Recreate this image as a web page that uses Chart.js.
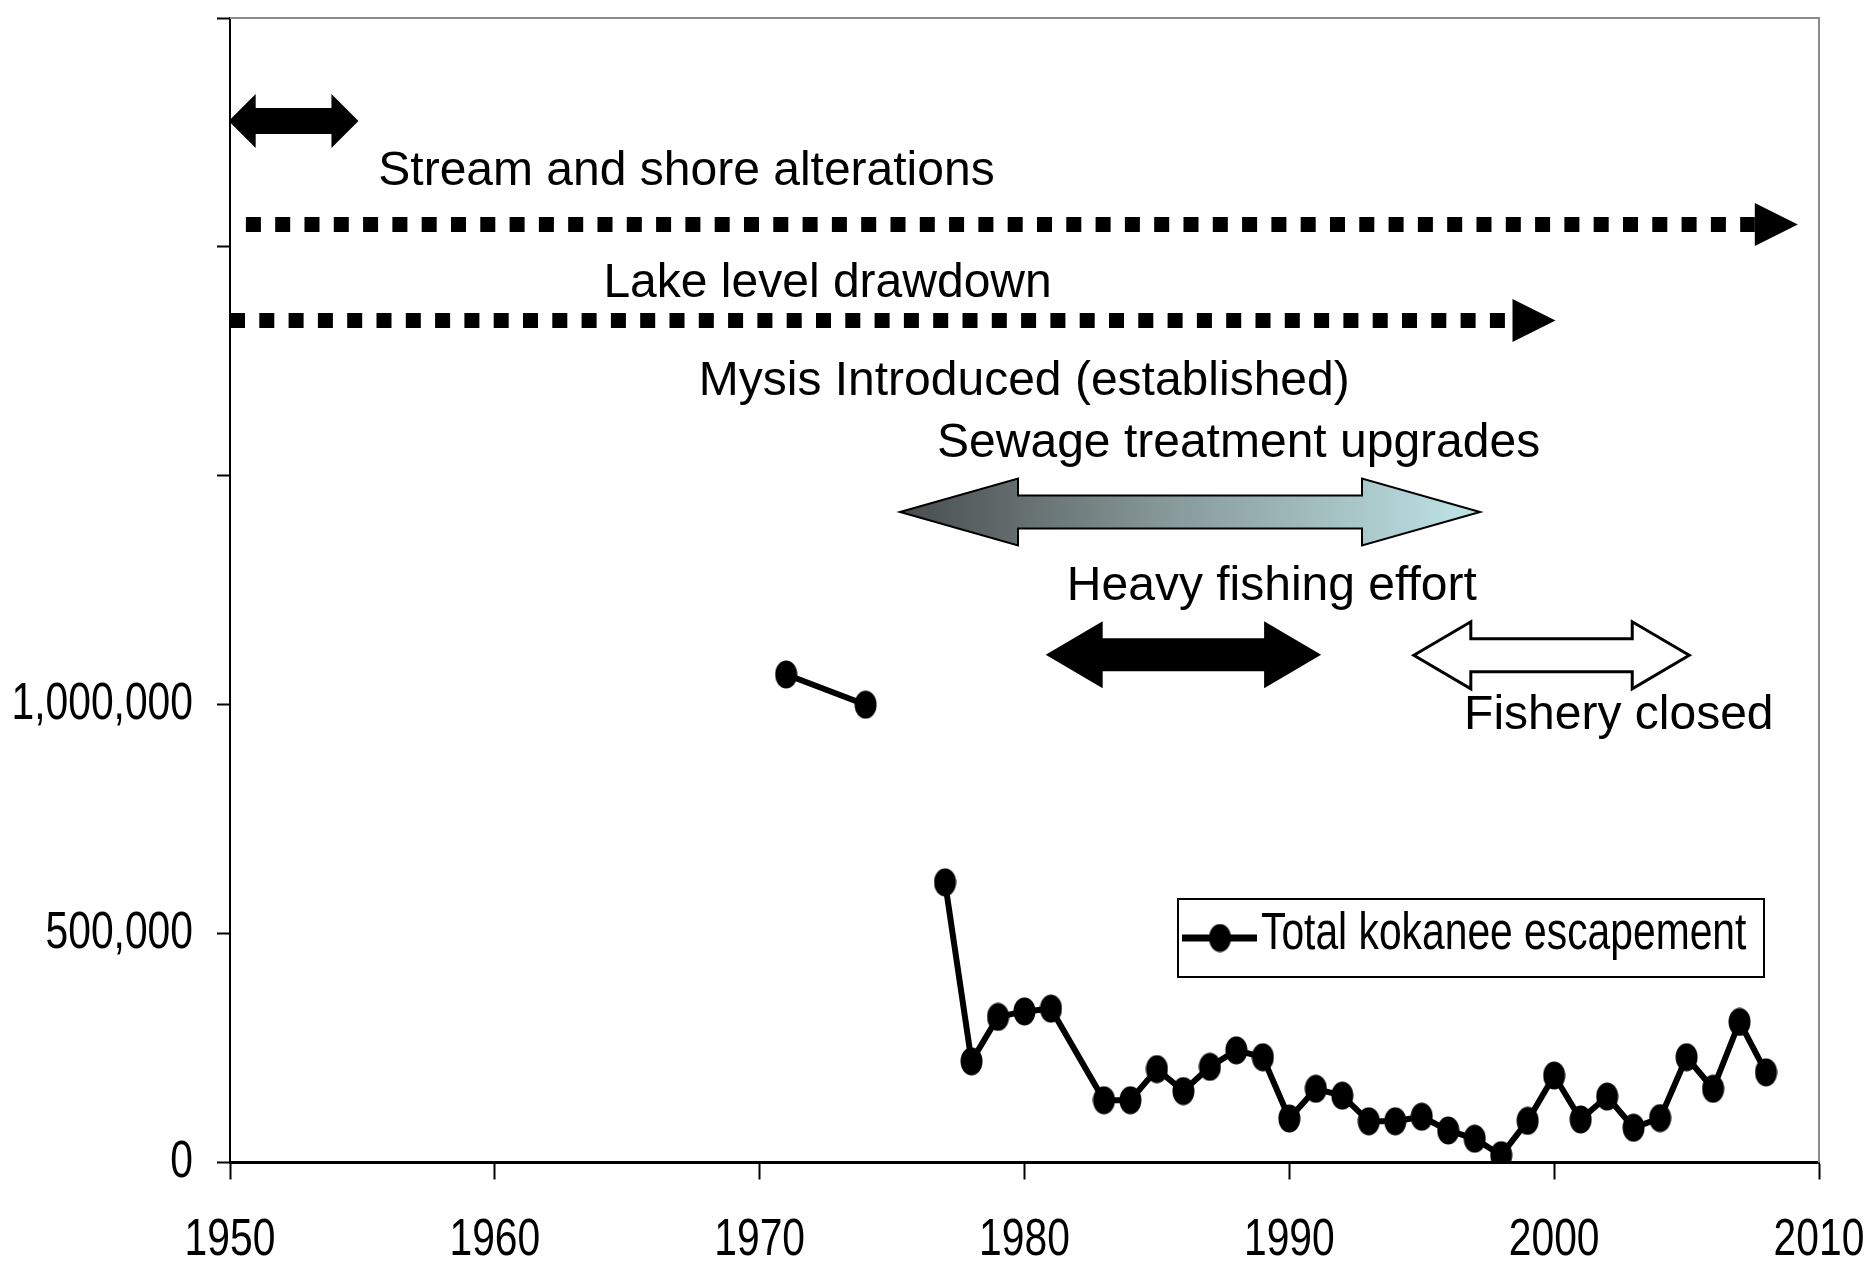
<!DOCTYPE html>
<html>
<head>
<meta charset="utf-8">
<script src="https://cdn.jsdelivr.net/npm/chart.js@4.4.0/dist/chart.umd.min.js"></script>
<style>
  html, body { margin: 0; padding: 0; background: #fff; }
  canvas { display: block; }
</style>
</head>
<body>
<canvas id="chart" width="1865" height="1276"></canvas>
<script>
// Total kokanee escapement by year (null = break in the record)
const years = [1971, 1974, 1975, 1977, 1978, 1979, 1980, 1981, 1983, 1984, 1985, 1986, 1987, 1988, 1989,
  1990, 1991, 1992, 1993, 1994, 1995, 1996, 1997, 1998, 1999, 2000, 2001, 2002, 2003, 2004, 2005, 2006, 2007, 2008];
const escapement = [1066000, 1000000, null, 612000, 221000, 318000, 330000, 336000, 136000, 136000, 204000, 156000, 209000, 245000, 230000,
  96000, 161000, 146000, 90000, 90000, 100000, 70000, 52000, 16000, 91000, 190000, 94000, 144000, 76000, 97000, 230000, 161000, 307000, 197000];

// tick labels (only the lower three y ticks carry a label)
const xTickLabels = ['1950', '1960', '1970', '1980', '1990', '2000', '2010'];
const yTickValues = [0, 500000, 1000000];
const yTickLabels = ['0', '500,000', '1,000,000'];

// Event annotations, positioned in data units (year, escapement)
const eventLabels = ['Stream and shore alterations', 'Lake level drawdown', 'Mysis Introduced (established)',
  'Sewage treatment upgrades', 'Heavy fishing effort', 'Fishery closed'];
const eventLabelYear = [1955.6, 1964.1, 1967.7, 1976.7, 1981.6, 1996.6];
const eventLabelValue = [2136000, 1890000, 1676000, 1541000, 1229000, 946000];

const arrowFrom = [1949.95, 1950.6, 1950.0, 1975.3, 1980.8, 1994.7];
const arrowTo = [1954.85, 2009.2, 2000.05, 1997.2, 1991.2, 2005.1];
const arrowValue = [2275000, 2049000, 1839000, 1421000, 1109000, 1108000];
const arrowKind = ['solidSmall', 'dotted', 'dotted', 'gradient', 'solid', 'hollow'];

const baseFont = "'Liberation Sans', Arial, sans-serif";
const NARROW = 0.8; // axis and legend text is a condensed face

// oval marker like the original
const marker = document.createElement('canvas');
marker.width = 23;
marker.height = 29;
const mctx = marker.getContext('2d');
mctx.fillStyle = '#000';
mctx.beginPath();
mctx.ellipse(11.5, 14.5, 11, 14, 0, 0, Math.PI * 2);
mctx.fill();

function narrowText(ctx, txt, x, y) {
  const w = ctx.measureText(txt).width;
  ctx.fillText(txt, x, y, w * NARROW);
}

function doubleArrowPath(ctx, x1, x2, yc, head, outerH, shaftH) {
  ctx.beginPath();
  ctx.moveTo(x1, yc);
  ctx.lineTo(x1 + head, yc - outerH / 2);
  ctx.lineTo(x1 + head, yc - shaftH / 2);
  ctx.lineTo(x2 - head, yc - shaftH / 2);
  ctx.lineTo(x2 - head, yc - outerH / 2);
  ctx.lineTo(x2, yc);
  ctx.lineTo(x2 - head, yc + outerH / 2);
  ctx.lineTo(x2 - head, yc + shaftH / 2);
  ctx.lineTo(x1 + head, yc + shaftH / 2);
  ctx.lineTo(x1 + head, yc + outerH / 2);
  ctx.closePath();
}

const annotations = {
  id: 'annotations',
  beforeDatasetsDraw(chart) {
    const { ctx, chartArea: a } = chart;
    // plot area frame (top and right)
    ctx.save();
    ctx.strokeStyle = '#8c8c8c';
    ctx.lineWidth = 2;
    ctx.beginPath();
    ctx.moveTo(a.left, a.top);
    ctx.lineTo(a.right, a.top);
    ctx.lineTo(a.right, a.bottom);
    ctx.stroke();
    ctx.restore();
  },
  afterDatasetsDraw(chart) {
    const { ctx, scales: { x, y } } = chart;
    ctx.save();

    arrowKind.forEach((kind, i) => {
      const x1 = x.getPixelForValue(arrowFrom[i]);
      const x2 = x.getPixelForValue(arrowTo[i]);
      const yc = y.getPixelForValue(arrowValue[i]);
      if (kind === 'dotted') {
        const head = 43;
        ctx.strokeStyle = '#000';
        ctx.lineWidth = 15;
        ctx.lineCap = 'butt';
        ctx.setLineDash([15, 14.3]);
        ctx.beginPath();
        ctx.moveTo(x1, yc);
        ctx.lineTo(x2 - head, yc);
        ctx.stroke();
        ctx.setLineDash([]);
        ctx.fillStyle = '#000';
        ctx.beginPath();
        ctx.moveTo(x2 - head, yc - 21.5);
        ctx.lineTo(x2, yc);
        ctx.lineTo(x2 - head, yc + 21.5);
        ctx.closePath();
        ctx.fill();
      } else if (kind === 'solidSmall') {
        doubleArrowPath(ctx, x1, x2, yc, 27, 54, 26);
        ctx.fillStyle = '#000';
        ctx.fill();
      } else if (kind === 'solid') {
        doubleArrowPath(ctx, x1, x2, yc, 57, 67, 33);
        ctx.fillStyle = '#000';
        ctx.fill();
      } else if (kind === 'hollow') {
        doubleArrowPath(ctx, x1, x2, yc, 57, 67, 33);
        ctx.fillStyle = '#fff';
        ctx.fill();
        ctx.strokeStyle = '#000';
        ctx.lineWidth = 3;
        ctx.lineJoin = 'miter';
        ctx.stroke();
      } else if (kind === 'gradient') {
        const g = ctx.createLinearGradient(x1, 0, x2, 0);
        g.addColorStop(0, '#474c4d');
        g.addColorStop(0.45, '#869797');
        g.addColorStop(1, '#bfe5e8');
        doubleArrowPath(ctx, x1, x2, yc, 118, 67, 33);
        ctx.fillStyle = g;
        ctx.fill();
        ctx.strokeStyle = '#000';
        ctx.lineWidth = 2;
        ctx.stroke();
      }
    });

    ctx.fillStyle = '#000';
    ctx.font = '48px ' + baseFont;
    ctx.textAlign = 'left';
    ctx.textBaseline = 'alphabetic';
    eventLabels.forEach((txt, i) => {
      ctx.fillText(txt, x.getPixelForValue(eventLabelYear[i]), y.getPixelForValue(eventLabelValue[i]));
    });
    ctx.restore();
  },
  afterDraw(chart) {
    const { ctx, chartArea: a, scales: { x, y } } = chart;
    ctx.save();
    ctx.fillStyle = '#000';
    ctx.font = '51px ' + baseFont;
    ctx.textBaseline = 'middle';

    // axis tick labels, placed from the scales' own ticks
    ctx.textAlign = 'center';
    x.ticks.forEach((t, i) => {
      narrowText(ctx, xTickLabels[i], x.getPixelForValue(t.value), a.bottom + 78);
    });
    ctx.textAlign = 'right';
    yTickValues.forEach((v, i) => {
      narrowText(ctx, yTickLabels[i], a.left - 37, y.getPixelForValue(v));
    });

    // legend box inside the plot
    const bx = a.left + 948, by = a.top + 881, bw = 586, bh = 78;
    ctx.fillStyle = '#fff';
    ctx.fillRect(bx, by, bw, bh);
    ctx.strokeStyle = '#000';
    ctx.lineWidth = 2;
    ctx.strokeRect(bx, by, bw, bh);
    const ly = by + 39;
    ctx.lineWidth = 7;
    ctx.beginPath();
    ctx.moveTo(bx + 4, ly);
    ctx.lineTo(bx + 79, ly);
    ctx.stroke();
    ctx.drawImage(marker, bx + 42 - marker.width / 2, ly - marker.height / 2);
    ctx.fillStyle = '#000';
    ctx.textAlign = 'left';
    ctx.textBaseline = 'alphabetic';
    narrowText(ctx, chart.data.datasets[0].label, bx + 83, by + 50);
    ctx.restore();
  }
};

const ctx = document.getElementById('chart').getContext('2d');

new Chart(ctx, {
  type: 'line',
  data: {
    datasets: [{
      label: 'Total kokanee escapement',
      data: years.map((yr, i) => ({ x: yr, y: escapement[i] })),
      borderColor: '#000',
      backgroundColor: '#000',
      borderWidth: 6,
      pointStyle: marker,
      pointRadius: 12,
      spanGaps: false,
      tension: 0
    }]
  },
  options: {
    responsive: false,
    animation: false,
    devicePixelRatio: 1,
    layout: { padding: { top: 14, right: 46, left: 0, bottom: 0 } },
    plugins: {
      legend: { display: false },
      tooltip: { enabled: false }
    },
    scales: {
      x: {
        type: 'linear',
        min: 1950,
        max: 2010,
        ticks: { stepSize: 10, display: false },
        grid: { drawOnChartArea: false, drawTicks: true, tickLength: 17, tickColor: '#000', tickWidth: 2 },
        border: { display: true, color: '#000', width: 3 },
        afterFit: s => { s.height = 113.5; }
      },
      y: {
        min: 0,
        max: 2500000,
        ticks: { stepSize: 500000, display: false },
        grid: { drawOnChartArea: false, drawTicks: true, tickLength: 13, tickColor: '#000', tickWidth: 2 },
        border: { display: true, color: '#000', width: 2 },
        afterFit: s => { s.width = 230; }
      }
    }
  },
  plugins: [annotations]
});
</script>
</body>
</html>
